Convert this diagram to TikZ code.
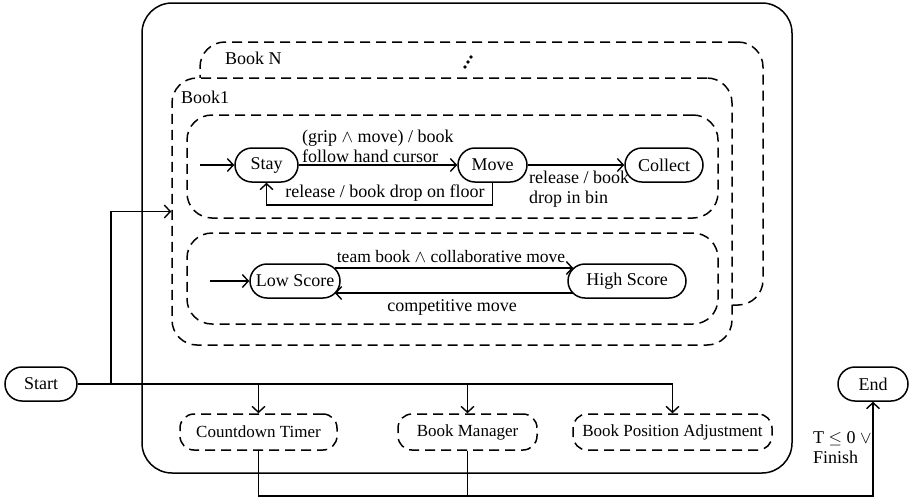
\documentclass[tikz,border=0pt]{standalone}
\usepackage{fontspec}
\setmainfont{Liberation Serif}
\usetikzlibrary{arrows.meta,shapes.misc}
\begin{document}
\begin{tikzpicture}[x=1pt,y=-1pt,
  every node/.style={font=\fontsize{18pt}{20pt}\selectfont, inner sep=1pt},
  line/.style={line width=1.5pt},
  arr/.style={line width=1.5pt,-{Straight Barb[length=6pt,width=13pt,line width=1.4pt]}},
  dsh/.style={line width=1.5pt, dash pattern=on 10pt off 6pt},
  cluster/.style={dsh, draw, rounded corners=25pt, inner sep=0pt},
  state/.style={draw, line width=1.5pt, rounded rectangle, minimum height=34pt, inner sep=0pt},
  task/.style={dsh, draw, rounded corners=14pt, minimum height=36pt, inner sep=0pt, font=\fontsize{17pt}{20pt}\selectfont},
  lbl/.style={inner sep=0pt}]
\useasboundingbox (0,0) rectangle (910,499);
% outer composite state
\node[draw, line, rounded corners=30pt, minimum width=650pt, minimum height=470pt, inner sep=0pt] (outer) at (467,238) {};
% Book N and Book 1 regions
\node[cluster, minimum width=563pt, minimum height=263pt] (bookN) at (481.5,173.5) {};
\node[cluster, fill=white, minimum width=560pt, minimum height=267pt] (book1) at (452,211.5) {};
\node[lbl, anchor=west] (lbN) at (225,58) {Book N};
\node[lbl, anchor=west] (lb1) at (181,97) {Book1};
\fill (465,67) circle (1.8pt) (468,62) circle (1.8pt) (471,57) circle (1.8pt);
% inner regions
\node[cluster, minimum width=531pt, minimum height=103pt] (reg1) at (452.5,166.5) {};
\node[cluster, minimum width=531pt, minimum height=91pt] (reg2) at (452.5,278.5) {};
% region 1 states
\node[state, minimum width=63pt] (stay) at (266.5,165) {Stay};
\node[state, minimum width=69pt] (move) at (492.5,165) {Move};
\node[state, minimum width=78pt] (collect) at (664,165) {Collect};
\coordinate (e1) at (200,165);
\draw[arr] (e1) -- (stay.west);
\draw[arr] (stay.east) -- (move.west);
\node[lbl, anchor=south west, align=left] (l1) at (302,163) {(grip $\wedge$ move) / book\\follow hand cursor};
\draw[arr] (move.east) -- (collect.west);
\node[lbl, anchor=north west, align=left] (l2) at (529,171) {release / book\\drop in bin};
\coordinate (m1) at (492.5,205);
\draw[arr] (move.south) -- (m1) -| (stay.south);
\node[lbl] (l3) at (385,193) {release / book drop on floor};
% region 2 states
\node[state, minimum width=90pt] (low) at (295,281) {Low Score};
\node[state, minimum width=118pt] (high) at (627,281) {High Score};
\coordinate (e2) at (210,281);
\draw[arr] (e2) -- (low.west);
\draw[arr] ([xshift=-6pt,yshift=13pt]low.east) -- ([xshift=6pt,yshift=13pt]high.west);
\draw[arr] ([xshift=6pt,yshift=-12pt]high.west) -- ([xshift=-6pt,yshift=-12pt]low.east);
\node[lbl, font=\fontsize{17.5pt}{20pt}\selectfont] (l4) at (451,257) {team book $\wedge$ collaborative move};
\node[lbl] (l5) at (452,307) {competitive move};
% start / end
\node[state, minimum width=72pt] (start) at (41,384) {Start};
\node[state, minimum width=70pt] (end) at (873,384) {End};
% tasks
\node[task, minimum width=157pt] (ct) at (258.5,432) {Countdown Timer};
\node[task, minimum width=139pt] (bm) at (467.5,432) {Book Manager};
\node[task, minimum width=199pt] (bpa) at (672.5,432) {Book Position Adjustment};
% fork
\coordinate (j0) at (111,384);
\draw[arr] (start.east) -| (bpa.north);
\draw[arr] (j0) |- (book1.west);
\draw[arr] (ct.north |- start.east) -- (ct.north);
\draw[arr] (bm.north |- start.east) -- (bm.north);
% join
\coordinate (j1) at (258.5,496);
\draw[arr] (ct.south) -- (j1) -| (end.south);
\draw[line] (bm.south) -- (bm.south |- j1);
\node[lbl, anchor=north west, align=left] (l6) at (813,431) {T $\leq$ 0 $\vee$\\Finish};
\end{tikzpicture}
\end{document}
